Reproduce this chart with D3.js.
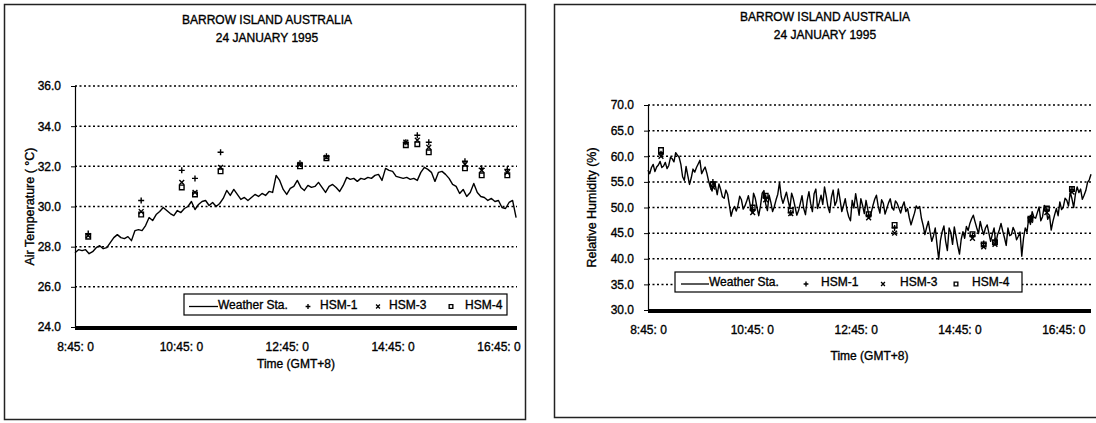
<!DOCTYPE html>
<html>
<head>
<meta charset="utf-8">
<script src="https://cdn.jsdelivr.net/npm/d3@7"></script>
<style>
  body { margin: 0; background: #fff; }
  svg { display: block; font-family: "Liberation Sans", Arial, sans-serif; }
  svg text { stroke: #000; stroke-width: 0.35px; fill: #000; }
</style>
</head>
<body>
<script>
// weather station series start at 08:45; temperature every 4 min, humidity every 2 min
const wsStart = '08:45'
const tempStepMin = 4
const rhStepMin = 2

const tempWS = [
  27.7, 27.85, 27.8, 27.85, 27.65, 27.75, 27.95, 28.05, 27.9, 27.95,
  28.2, 28.45, 28.6, 28.45, 28.4, 28.5, 28.3, 28.8, 28.85, 28.8,
  29.05, 29.45, 29.3, 29.6, 29.75, 29.95, 29.8, 29.65, 29.55, 29.8,
  29.7, 29.9, 30.0, 30.25, 29.85, 30.1, 30.25, 30.3, 30.05, 30.2,
  30.0, 30.15, 30.4, 30.8, 30.55, 30.85, 30.6, 30.35, 30.45, 30.3,
  30.45, 30.6, 30.5, 30.65, 30.55, 30.75, 30.7, 31.55, 31.3, 30.85,
  30.6, 30.9, 31.0, 31.3, 30.95, 30.8, 31.05, 30.95, 31.0, 31.2,
  30.95, 30.7, 31.0, 31.1, 30.95, 30.75, 31.05, 31.45, 31.35, 31.4,
  31.25, 31.4, 31.35, 31.45, 31.4, 31.55, 31.6, 31.3, 31.9, 31.8,
  31.75, 31.5, 31.45, 31.4, 31.45, 31.35, 31.4, 31.3, 31.7, 31.95,
  31.85, 31.7, 31.25, 31.7, 31.75, 31.6, 31.4, 31.1, 31.0, 30.65,
  30.85, 30.5, 30.7, 31.15, 30.7, 30.5, 30.45, 30.3, 30.4, 30.25,
  30.3, 29.95, 29.9, 30.2, 30.3, 29.45
]

const rhWS = [
  57.3, 56.6, 57.8, 58.4, 57.0, 57.9, 58.3, 59.0, 57.8, 58.1,
  58.8, 57.6, 58.2, 59.8, 59.5, 58.9, 60.7, 60.2, 59.8, 58.4,
  56.0, 55.3, 58.0, 56.2, 54.5, 55.8, 57.5, 56.9, 57.8, 58.5,
  59.2, 56.6, 57.3, 57.9, 56.7, 55.2, 54.0, 53.2, 55.0, 54.2,
  52.5, 54.6, 53.5, 52.1, 51.8, 53.4, 52.6, 50.5, 48.3, 49.6,
  50.2, 49.3, 50.4, 52.2, 51.5, 49.7, 50.3, 51.2, 52.3, 50.6,
  49.1, 52.8, 51.8, 50.0, 48.4, 50.3, 52.8, 53.3, 50.7, 49.4,
  52.4, 51.0, 49.2, 50.2, 51.5, 52.6, 54.9, 52.1, 50.8, 51.9,
  53.0, 51.3, 49.8, 52.8, 51.7, 50.1, 48.5, 49.4, 50.8, 52.3,
  49.8, 48.6, 51.4, 53.1, 50.8, 49.2, 52.7, 53.6, 49.8, 51.0,
  52.4, 50.6, 54.0, 52.2, 50.1, 49.0, 52.0, 53.4, 50.4, 51.2,
  53.6, 51.5, 49.2, 50.4, 51.7, 49.5, 48.2, 47.4, 51.4, 49.9,
  52.7, 50.6, 48.5, 51.7, 50.4, 48.8, 51.4, 49.6, 47.9, 49.0,
  50.4, 51.6, 52.4, 50.3, 48.9, 51.5, 50.8, 48.7, 49.8, 50.9,
  51.7, 50.0, 49.5, 51.3, 50.8, 49.9, 48.9, 50.2, 51.1, 49.2,
  49.8, 48.0, 46.6, 47.8, 48.9, 50.3, 49.8, 50.2, 47.9, 46.5,
  44.7, 46.1, 47.3, 45.2, 43.4, 44.5, 46.0, 42.8, 39.9, 43.6,
  45.3, 46.4, 43.4, 41.6, 46.0, 45.1, 42.8, 46.2, 44.4, 42.5,
  40.9, 43.8, 45.3, 44.0, 46.3, 45.5, 46.9, 47.8, 48.5, 47.2,
  46.0, 44.9, 47.3, 45.8, 44.7, 46.0, 46.6, 45.0, 43.4, 44.8,
  46.0, 42.9, 44.7, 45.6, 46.9, 45.4, 44.1, 42.6, 46.0, 44.5,
  44.7, 46.1, 45.3, 43.7, 44.4, 45.2, 40.5, 44.0, 46.0, 45.2,
  47.9, 46.7, 49.2, 48.1, 47.9, 49.0, 50.1, 47.4, 48.2, 50.4,
  49.8, 47.7, 48.5, 45.6, 47.3, 48.6, 49.8, 48.4, 51.1, 49.6,
  50.1, 51.8, 51.4, 50.3, 53.0, 51.7, 50.0, 52.6, 54.0, 52.9,
  53.6, 51.6, 52.4, 53.3, 54.9, 55.4, 56.5
]

const hsmTimes = ['09:00', '10:00', '10:46', '11:01', '11:30', '13:00', '13:30',
  '15:00', '15:13', '15:26', '16:07', '16:26', '16:55']

const tempHSM1 = [28.65, 30.3, 31.8, 31.4, 32.7, 32.15, 32.5, 33.2, 33.55, 33.2, 32.25, 31.9, 31.85]
const tempHSM3 = [28.55, 29.75, 31.2, 30.7, 31.95, 32.1, 32.45, 33.2, 33.3, 32.95, 32.1, 31.8, 31.7]
const tempHSM4 = [28.5, 29.6, 30.95, 30.6, 31.75, 32.0, 32.4, 33.05, 33.1, 32.7, 31.9, 31.55, 31.55]

const rhHSM1 = [60.5, 55.0, 49.5, 52.0, 49.0, 48.5, 46.0, 44.5, 43.0, 43.5, 48.0, 49.5, 53.5]
const rhHSM3 = [60.0, 54.0, 49.0, 51.5, 48.8, 48.0, 45.0, 44.0, 42.3, 42.8, 47.5, 49.0, 53.0]
const rhHSM4 = [61.2, 54.5, 50.0, 52.3, 49.4, 48.7, 46.6, 44.8, 42.8, 43.2, 47.8, 49.8, 53.6]

const tempTicks = [24, 26, 28, 30, 32, 34, 36]
const rhTicks = [30, 35, 40, 45, 50, 55, 60, 65, 70]
const timeTicks = ['08:45', '10:45', '12:45', '14:45', '16:45']
const legendNames = ['Weather Sta.', 'HSM-1', 'HSM-3', 'HSM-4']

const parseT = d3.timeParse('%H:%M')
const fmtT = d3.timeFormat('%-H:%M: %-S')

const W = 1096, H = 423
const svg = d3.select('body').append('svg')
  .attr('width', W)
  .attr('height', H)

const symbols = {
  plus: 'M-3,0H3M0,-3V3',
  cross: 'M-2.4,-2.4L2.4,2.4M-2.4,2.4L2.4,-2.4',
  square: 'M-2.3,-2.3H2.3V2.3H-2.3Z'
}

function drawPanel(p) {
  const g = svg.append('g')

  g.append('rect')
    .attr('x', p.frame[0]).attr('y', p.frame[1])
    .attr('width', p.frame[2]).attr('height', p.frame[3])
    .attr('fill', 'none').attr('stroke', '#222').attr('stroke-width', 1.5)

  g.append('text').attr('x', p.titleX).attr('y', p.titleY)
    .attr('text-anchor', 'middle').attr('font-size', 12).text('BARROW ISLAND AUSTRALIA')
  g.append('text').attr('x', p.titleX).attr('y', p.titleY + 18)
    .attr('text-anchor', 'middle').attr('font-size', 12).text('24 JANUARY 1995')

  const t0 = parseT(wsStart)
  const x = d3.scaleTime().domain([t0, parseT(p.tEnd)]).range([p.left, p.right])
  const y = d3.scaleLinear().domain(d3.extent(p.ticks)).range([p.bottom, p.top])

  // dotted grid
  g.selectAll('.grid').data(p.ticks.slice(1)).join('line')
    .attr('x1', p.left).attr('x2', p.right)
    .attr('y1', d => y(d)).attr('y2', d => y(d))
    .attr('stroke', '#000').attr('stroke-width', 1.5).attr('stroke-dasharray', '2,2.5')

  const ya = g.append('g').attr('transform', `translate(${p.left},0)`)
    .call(d3.axisLeft(y).tickValues(p.ticks).tickSize(4).tickPadding(10).tickFormat(d3.format('.1f')))
  ya.select('.domain').attr('stroke-width', 1.2)
  ya.selectAll('text').attr('font-size', 12).attr('fill', '#000').attr('font-family', null)

  const xa = g.append('g').attr('transform', `translate(0,${p.bottom})`)
    .call(d3.axisBottom(x).tickValues(timeTicks.map(parseT)).tickSize(0).tickPadding(15).tickFormat(fmtT))
  xa.select('.domain').remove()
  xa.selectAll('text').attr('font-size', 12).attr('fill', '#000').attr('font-family', null)

  g.append('line')
    .attr('x1', p.left).attr('x2', p.right)
    .attr('y1', p.bottom + 1).attr('y2', p.bottom + 1)
    .attr('stroke', '#000').attr('stroke-width', 4)

  g.append('text').attr('x', (p.left + p.right) / 2).attr('y', p.xTitleY)
    .attr('text-anchor', 'middle').attr('font-size', 12).text('Time (GMT+8)')
  g.append('text')
    .attr('transform', `translate(${p.yTitleX},${(p.top + p.bottom) / 2}) rotate(-90)`)
    .attr('text-anchor', 'middle').attr('font-size', 12.5).text(p.yTitle)

  const line = d3.line()
    .x((d, i) => x(d3.timeMinute.offset(t0, i * p.step)))
    .y(d => y(d))
  g.append('path').datum(p.ws)
    .attr('d', line)
    .attr('fill', 'none').attr('stroke', '#000').attr('stroke-width', 1.4)
    .attr('stroke-linejoin', 'round')

  const hsm = [[p.h1, 'plus'], [p.h3, 'cross'], [p.h4, 'square']]
  hsm.forEach(([vals, sym]) => {
    g.selectAll(null).data(vals).join('path')
      .attr('transform', (d, i) => `translate(${x(parseT(hsmTimes[i]))},${y(d)})`)
      .attr('d', symbols[sym])
      .attr('fill', 'none').attr('stroke', '#000').attr('stroke-width', 1.4)
  })

  // legend
  const lg = g.append('g').attr('transform', `translate(${p.legend[0]},${p.legend[1]})`)
  lg.append('rect').attr('width', p.legend[2]).attr('height', p.legend[3])
    .attr('fill', '#fff').attr('stroke', '#000').attr('stroke-width', 1.2)
  const my = p.legend[3] / 2
  lg.append('line').attr('x1', p.lgPos[0]).attr('x2', p.lgPos[1])
    .attr('y1', my + 2).attr('y2', my + 2).attr('stroke', '#000').attr('stroke-width', 1.3)
  lg.append('text').attr('x', p.lgPos[1]).attr('y', my + 4).attr('font-size', 12).text(legendNames[0])
  ;['plus', 'cross', 'square'].forEach((sym, k) => {
    lg.append('path').attr('d', symbols[sym])
      .attr('transform', `translate(${p.lgPos[2 + k * 2]},${my + 2}) scale(0.8)`)
      .attr('fill', 'none').attr('stroke', '#000').attr('stroke-width', 1.7)
    lg.append('text').attr('x', p.lgPos[3 + k * 2]).attr('y', my + 4)
      .attr('font-size', 12).text(legendNames[k + 1])
  })
}

drawPanel({
  frame: [4.5, 4.5, 521, 415],
  titleX: 267, titleY: 24,
  left: 75, right: 517, top: 86, bottom: 327, tEnd: '17:06', step: tempStepMin,
  ticks: tempTicks, ws: tempWS, h1: tempHSM1, h3: tempHSM3, h4: tempHSM4,
  yTitle: 'Air Temperature ( °C)', yTitleX: 34, xTitleY: 368,
  legend: [184, 294, 323, 21],
  lgPos: [5, 34, 124, 136, 194, 205, 267, 281]
})

drawPanel({
  frame: [554.5, 4.5, 560, 413],
  titleX: 825, titleY: 21,
  left: 648, right: 1091, top: 105, bottom: 310, tEnd: '17:17', step: rhStepMin,
  ticks: rhTicks, ws: rhWS, h1: rhHSM1, h3: rhHSM3, h4: rhHSM4,
  yTitle: 'Relative Humidity (%)', yTitleX: 596, xTitleY: 360,
  legend: [675, 272, 347, 20],
  lgPos: [6, 34, 131, 146, 208, 225, 281, 297]
})
</script>
</body>
</html>
